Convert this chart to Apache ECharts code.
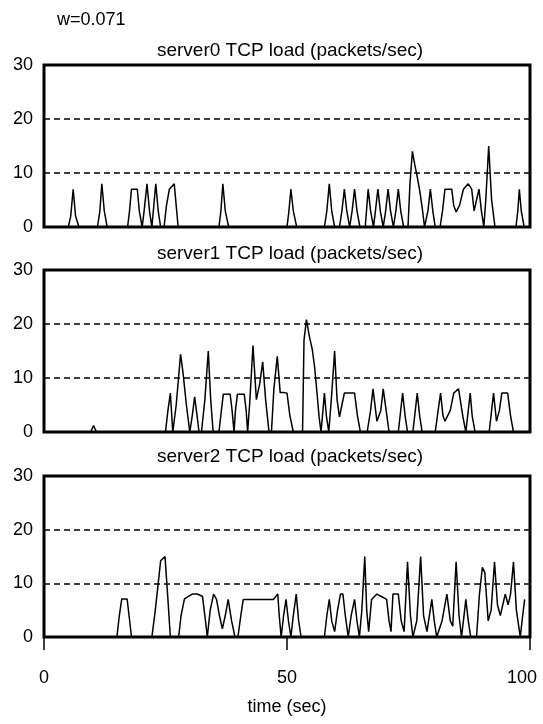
<!DOCTYPE html>
<html>
<head>
<meta charset="utf-8">
<script src="https://cdn.jsdelivr.net/npm/echarts@6/dist/echarts.min.js"></script>
<style>
  html, body { margin: 0; padding: 0; background: #fff; }
  #chart { width: 543px; height: 724px; }
</style>
</head>
<body>
<div id="chart"></div>
<script>
// 数据
var xTicks = [0, 50, 100];
var yTicks = [0, 10, 20, 30];
var panelTitles = ["server0 TCP load (packets/sec)", "server1 TCP load (packets/sec)", "server2 TCP load (packets/sec)"];

var s0Time = [0, 5, 5.5, 6, 6.5, 7.2, 11, 11.5, 11.9, 12.4, 13, 17.2, 17.6, 18, 19.2, 19.6, 20.2, 20.6, 21.2, 21.7, 22.2,
  22.5, 23, 23.5, 24, 24.7, 25.2, 25.8, 26.8, 27.2, 27.6, 36, 36.4, 36.8, 37.3, 38, 50, 50.4, 50.8, 51.3, 52,
  57.7, 58.2, 58.7, 59.2, 59.8, 60.8, 61.3, 61.8, 62.3, 62.9, 63.4, 63.9, 64.4, 65, 66.1, 66.7, 67.2, 67.8,
  68.2, 68.7, 69.2, 69.8, 70.3, 70.8, 71.3, 71.9, 72.4, 72.9, 73.4, 74, 74.9, 75.3, 75.8, 76.3, 76.8, 77.3, 77.8, 78.3,
  79, 79.5, 80, 80.5, 81.5, 82, 82.5, 83.9, 84.3, 84.8, 85.5, 86.3, 87.3, 88, 88.5, 89, 89.5, 90, 90.5, 90.9, 91.5, 92.1, 92.8,
  97.1, 97.5, 97.8, 98.2, 98.8, 100];
var s0Load = [0, 0, 2, 7, 2, 0, 0, 3, 8, 3, 0, 0, 3, 7, 7, 3, 0, 3, 8, 3, 0,
  3, 8, 3, 0, 0, 4, 7, 8, 4, 0, 0, 3, 8, 3, 0, 0, 3, 7, 3, 0,
  0, 3, 8, 3, 0, 0, 3, 7, 3, 0, 3, 7, 3, 0, 0, 7, 3, 0,
  3, 7, 3, 0, 3, 7, 3, 0, 3, 7, 3, 0, 0, 8, 14, 11.5, 9.3, 6.8, 3.7, 0,
  3, 7, 3, 0, 0, 3, 7, 7, 4, 2.8, 4, 7, 8, 7, 3, 5, 7, 3, 0, 5, 15, 5, 0,
  0, 3, 7, 3, 0, 0];

var s1Time = [0, 9.6, 10.2, 10.8, 25, 25.5, 26, 26.5, 27.2, 28.1, 28.6, 29.3, 30, 30.5, 31, 31.5, 31.9, 32.4, 33.1, 33.8, 34.3, 34.8,
  36, 36.5, 36.9, 38.3, 38.7, 39.1, 39.4, 39.8, 41.2, 41.6, 41.9, 42.3, 43, 43.7, 44.4, 45, 45.6, 46.3,
  46.8, 47.3, 48, 48.6, 49.3, 50, 50.6, 51.3, 53.2, 53.5, 54, 54.6, 55.2, 55.7, 56.2, 56.6, 57, 57.4, 57.7, 58.1, 58.6,
  59.2, 59.8, 60.3, 60.8, 61.3, 61.8, 63.9, 64.5, 65.1, 66.5, 67.2, 67.7, 68.5, 69.3, 69.8, 70.4, 71,
  72.9, 73.4, 73.8, 74.3, 74.8, 75.9, 76.4, 76.8, 77.3, 77.8, 80.5, 81.1, 81.6, 82.1, 82.5, 83.6, 84.3, 85.3, 86.2, 86.8,
  87.3, 87.7, 88.1, 88.7, 91.6, 92.1, 92.5, 93.1, 93.7, 94.2, 95.4, 96, 96.6, 99];
var s1Load = [0, 0, 1.2, 0, 0, 4, 7.2, 0, 5, 14.4, 11, 5, 0, 3, 6.5, 3, 0, 0, 6, 15, 6, 0,
  0, 4, 7, 7, 4, 0, 4, 7, 7, 4, 0, 5, 16, 6, 9, 13, 6, 0,
  0, 8, 14, 7.3, 7.3, 7.2, 3, 0, 0, 17, 20.8, 17.7, 15.3, 11.9, 7, 2.8, 0, 4, 7.2, 3, 0,
  7, 15, 6, 2.8, 5, 7.2, 7.2, 3, 0, 0, 4, 8, 2, 4, 8, 4, 0,
  0, 4, 7.2, 3, 0, 0, 4, 7.2, 3, 0, 0, 4, 7.2, 3, 2, 4, 7.2, 8, 2.8, 0,
  4, 7.2, 3, 0, 0, 4, 7.2, 2, 4, 7.2, 7.2, 3, 0, 0];

var s2Time = [0, 15, 15.5, 16, 17.1, 17.5, 18, 22.2, 22.9, 23.5, 24, 24.9, 25.5, 26,
  27.7, 28.2, 28.9, 30.5, 31.5, 32.6, 33.1, 33.6, 34.2, 34.9, 35.5, 36.1, 36.7, 37.3, 37.9, 38.6, 39.3,
  39.9, 40.5, 41, 47.2, 48.1, 48.4, 48.8, 49.3, 49.8, 50.3, 50.8, 51.3, 51.9, 52.4, 52.9,
  57.7, 58.2, 58.7, 59.2, 59.8, 60.4, 61, 61.5, 62, 62.6, 63.2, 63.9, 64.4, 64.9, 65.4, 66, 66.4, 66.8,
  67.4, 68.5, 69.5, 70.5, 71, 71.4, 71.8, 72.9, 73.5, 74.1, 74.8, 75.4, 75.9,
  76.7, 77.5, 78.1, 78.8, 79.3, 79.8, 80.3, 80.8, 81.9, 82.9, 83.6, 84.1, 84.8, 85.4, 85.9,
  86.3, 86.8, 87.3, 87.8, 89, 89.6, 90.2, 90.7, 91.4, 92, 92.7, 93.3, 93.9, 94.9, 95.5, 96, 96.6, 97.2, 98, 98.5, 98.9];
var s2Load = [0, 0, 4, 7.1, 7.1, 4, 0, 0, 5, 10, 14.2, 15, 7, 0,
  0, 4, 7.1, 8, 8, 7.6, 4, 0, 5, 8, 7, 4, 1.5, 4, 7, 3, 0,
  0, 4, 7, 7, 8, 4, 0, 4, 7, 3, 0, 4, 8, 3, 0,
  0, 4, 7, 3, 1, 5, 8, 8, 4, 0, 4, 7, 3, 0, 5, 15, 5, 1,
  7, 8, 7.5, 7, 3, 1, 8, 8, 3, 1, 14, 4, 0,
  3, 15, 4, 1, 4, 7, 3, 0, 3, 8, 3, 2, 14, 4, 0,
  3, 7, 3, 0, 0, 8, 13, 12, 3, 5, 14, 6, 4, 8, 6, 8, 14, 5, 0, 4, 7];

function pairs(ts, vs) {
  return ts.map(function (t, i) { return [t, vs[i]]; });
}

var fontName = "Liberation Sans";
var grids = [
  { left: 44, right: 13, top: 65, height: 162 },
  { left: 44, right: 13, top: 270, height: 162 },
  { left: 44, right: 13, top: 476, height: 161 }
];
var allTimes = [s0Time, s1Time, s2Time];
var allLoads = [s0Load, s1Load, s2Load];

var option = {
  backgroundColor: "#fff",
  animation: false,
  title: [
    { text: "w=0.071", left: 52, top: 6, textStyle: { fontFamily: fontName, fontSize: 18, fontWeight: "normal", color: "#000" } }
  ].concat(panelTitles.map(function (t, i) {
    return {
      text: t, left: 285, top: [36, 239, 442][i], textAlign: "center",
      textStyle: { fontFamily: fontName, fontSize: 19, fontWeight: "normal", color: "#000" }
    };
  })),
  grid: grids.map(function (g) {
    return Object.assign({ show: true, borderColor: "#000", borderWidth: 3, backgroundColor: "#fff", outerBoundsMode: "none", containLabel: false }, g);
  }),
  xAxis: grids.map(function (g, i) {
    var last = i === 2;
    return {
      type: "value", gridIndex: i, min: 0, max: 100, interval: 50,
      axisLine: { show: false },
      axisTick: { show: last, length: 13, lineStyle: { color: "#000", width: 1.5 } },
      axisLabel: {
        show: last, margin: 32, fontFamily: fontName, fontSize: 18, color: "#000",
        formatter: function (v) { return v === xTicks[2] ? "{r|" + v + "}" : String(v); },
        rich: { r: { fontFamily: fontName, fontSize: 18, color: "#000", padding: [0, 16, 0, 0] } }
      },
      splitLine: { show: false },
      name: last ? "time (sec)" : "",
      nameLocation: "middle", nameGap: 61,
      nameTextStyle: { fontFamily: fontName, fontSize: 18, color: "#000" }
    };
  }),
  yAxis: grids.map(function (g, i) {
    return {
      type: "value", gridIndex: i, min: 0, max: 30, interval: 10,
      axisLine: { show: false },
      axisTick: { show: false },
      axisLabel: { margin: 11, fontFamily: fontName, fontSize: 18, color: "#000" },
      splitLine: { show: true, lineStyle: { color: "#000", type: [6, 4], width: 1.5 } }
    };
  }),
  series: allTimes.map(function (ts, i) {
    return {
      type: "line", xAxisIndex: i, yAxisIndex: i,
      data: pairs(ts, allLoads[i]),
      showSymbol: false, symbol: "none",
      lineStyle: { color: "#000", width: 1.5 },
      z: 3
    };
  })
};

var chart = echarts.init(document.getElementById("chart"));
chart.setOption(option);
</script>
</body>
</html>
